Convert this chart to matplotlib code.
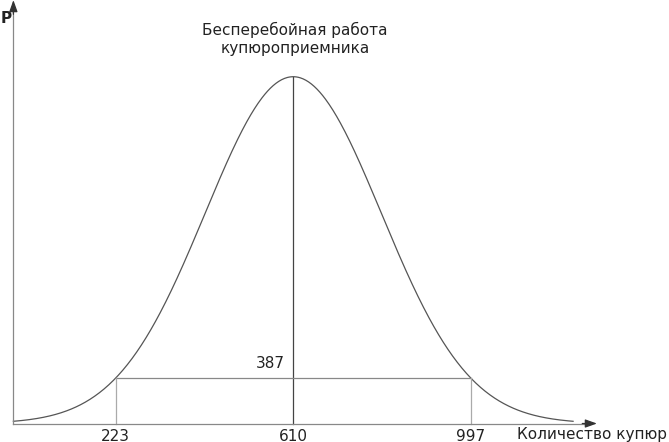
import matplotlib
matplotlib.use('Agg')
import matplotlib.pyplot as plt
import numpy as np

# data
mean = 610          # центр распределения
sigma = 192         # разброс
left, right = 223, 997
width_label = '387'
tick_values = [223, 610, 997]
x_min, x_max = 0, 2 * mean
title = 'Бесперебойная работа\nкупюроприемника'
x_name = 'Количество купюр'
y_name = 'P'

fig = plt.figure(figsize=(6.69, 4.42), dpi=100)
ax = fig.add_axes([0, 0, 1, 1])
ax.axis('off')
ax.set_xlim(-29.2, 1429.1)
ax.set_ylim(-0.0533, 1.2212)

xs = np.linspace(x_min, x_max, 600)
curve = np.exp(-(xs - mean) ** 2 / (2 * sigma ** 2))
ax.plot(xs, curve, color='#555555', lw=0.9)

level = np.exp(-(left - mean) ** 2 / (2 * sigma ** 2))

# center line and box
ax.plot([mean, mean], [0, 1], color='#444444', lw=0.9)
ax.plot([left, right], [level, level], color='#888888', lw=0.9)
ax.plot([left, left], [0, level], color='#aaaaaa', lw=0.9)
ax.plot([right, right], [0, level], color='#aaaaaa', lw=0.9)

# axes with arrows
ax.plot([0, 1260], [0, 0], color='#888888', lw=0.9)
ax.plot([0, 0], [0, 1.20], color='#888888', lw=0.9)
arr = dict(arrowstyle='-|>,head_length=0.7,head_width=0.25', color='#333333',
           lw=0.9, shrinkA=0, shrinkB=0)
ax.annotate('', xy=(1272, 0), xytext=(1240, 0), arrowprops=arr)
ax.annotate('', xy=(0, 1.221), xytext=(0, 1.18), arrowprops=arr)

fs = 11
for v in tick_values:
    ax.text(v, -0.036, str(v), ha='center', va='center', fontsize=fs, color='#222222')
ax.text(mean - 18, level + 0.042, width_label, ha='right', va='center', fontsize=fs,
        color='#222222')
ax.text(1098, -0.033, x_name, ha='left', va='center', fontsize=fs, color='#222222')
ax.text(-16, 1.169, y_name, ha='center', va='center', fontsize=fs, color='#222222',
        fontweight='bold')
ax.text(614, 1.110, title, ha='center', va='center', fontsize=fs, color='#222222',
        linespacing=1.25)

fig.savefig('out.png', dpi=100)
